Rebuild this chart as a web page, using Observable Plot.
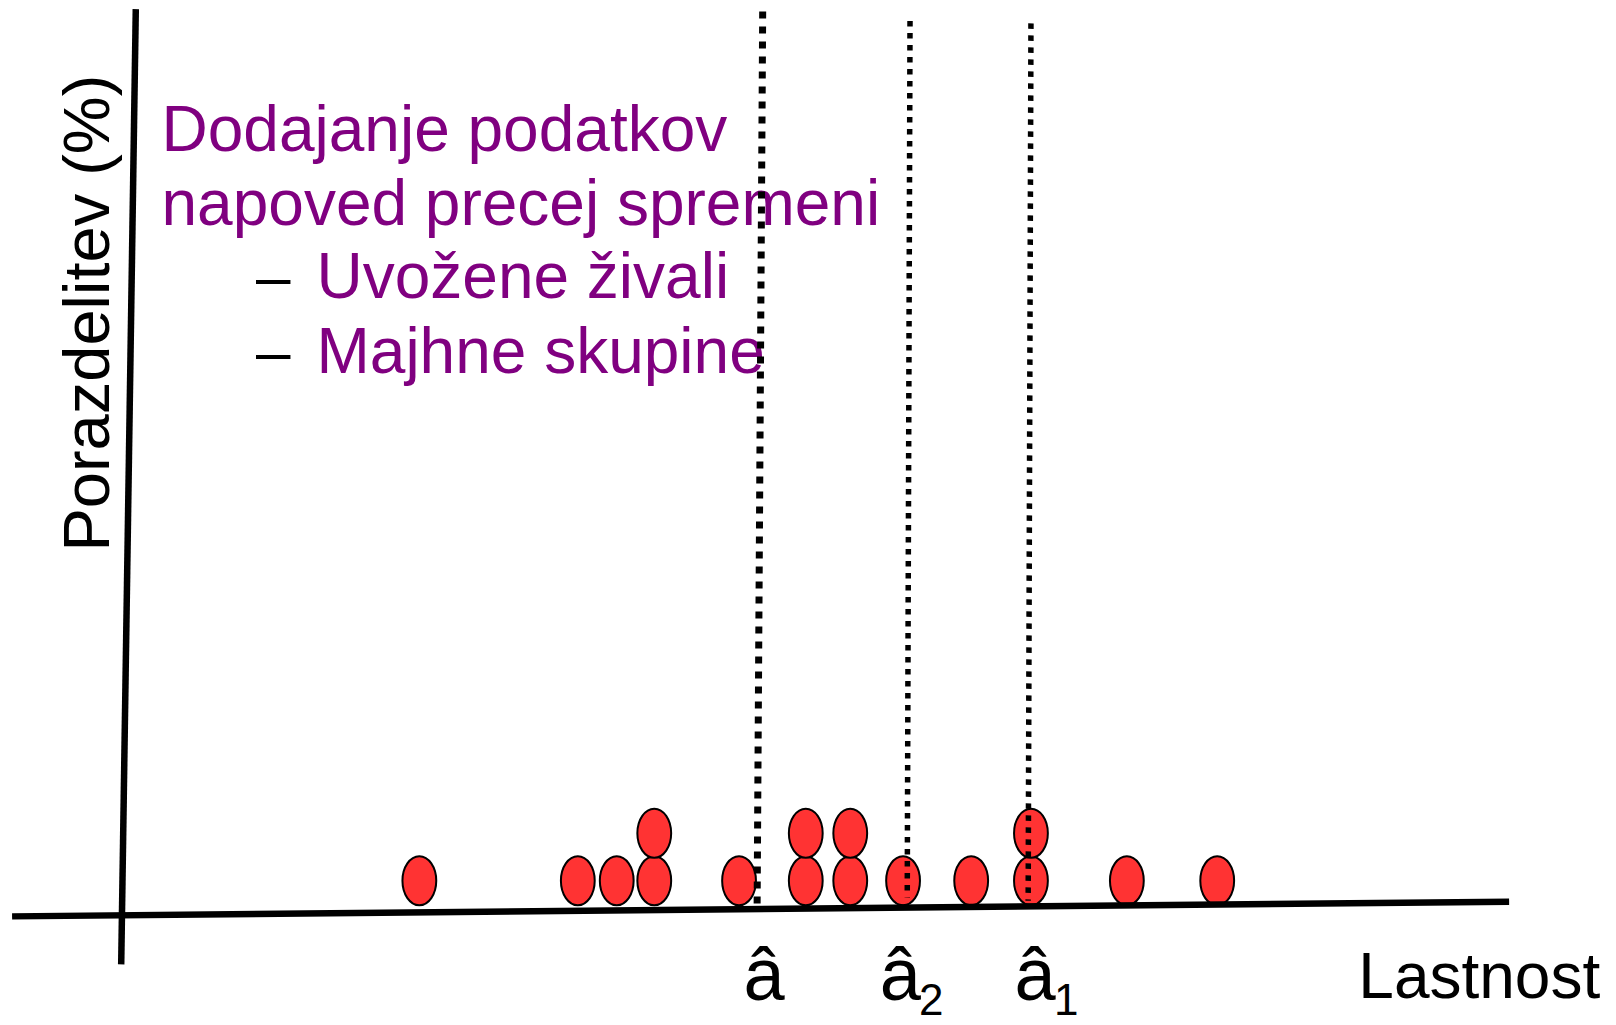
<!DOCTYPE html>
<html>
<head>
<meta charset="utf-8">
<script src="https://cdn.jsdelivr.net/npm/d3@7"></script>
<script src="https://cdn.jsdelivr.net/npm/@observablehq/plot@0.6"></script>
<style>
  html, body { margin: 0; padding: 0; background: #fff; }
  #chart svg { display: block; }
</style>
</head>
<body>
<div id="chart"></div>
<script>
// ---------- data (Lastnost values and stack level of each observation) ----------
const dotX     = [21.5, 32.9, 35.7, 38.4, 38.4, 44.5, 49.3, 49.3, 52.5, 52.5, 56.3, 61.2, 65.5, 65.5, 72.4, 78.9];
const dotLevel = [0,    0,    0,    0,    1,    0,    0,    1,    0,    1,    0,    0,    0,    1,    0,    0];

// estimates (vertical dotted lines), drawn by hand so slightly slanted
const estName    = ["â", "â2", "â1"];
const estTopX    = [46.2, 56.8, 65.5];
const estBottomX = [45.8, 56.6, 65.3];
const estTopY    = [18.8, 18.6, 18.55];
const estBottomY = [0.0, 0.15, 0.08];

// tick labels under the axis
const tickAt   = [46.3, 56.1, 65.8];
const tickMain = ["â", "â", "â"];
const tickSub  = ["", "2", "1"];

// hand-drawn axes (endpoints in data units)
const xAxisEnds = [[-7.8, -0.25], [99.9, 0.06]];
const yAxisEnds = [[1.1, 18.85], [0.05, -1.26]];

// texts
const titleLines  = ["Dodajanje podatkov", "napoved precej spremeni"];
const bulletLines = ["Uvožene živali", "Majhne skupine"];
const xLabel = "Lastnost";
const yLabel = "Porazdelitev (%)";

// ---------- derived tables ----------
const dots = dotX.map((x, i) => ({x, y: dotLevel[i] + 0.5}));
const estimates = estName.map((n, i) => ({
  name: n, x1: estTopX[i], y1: estTopY[i], x2: estBottomX[i], y2: estBottomY[i]
}));
const ticks = tickAt.map((x, i) => ({x, main: tickMain[i], sub: tickSub[i]}));
const axes = [
  {x1: xAxisEnds[0][0], y1: xAxisEnds[0][1], x2: xAxisEnds[1][0], y2: xAxisEnds[1][1]},
  {x1: yAxisEnds[0][0], y1: yAxisEnds[0][1], x2: yAxisEnds[1][0], y2: yAxisEnds[1][1]}
];

// custom ellipse symbol (taller than wide)
const ellipse = {
  draw(context, size) {
    const ry = Math.sqrt(size / Math.PI), rx = ry * 0.69, k = 0.5523;
    context.moveTo(rx, 0);
    context.bezierCurveTo(rx, ry * k, rx * k, ry, 0, ry);
    context.bezierCurveTo(-rx * k, ry, -rx, ry * k, -rx, 0);
    context.bezierCurveTo(-rx, -ry * k, -rx * k, -ry, 0, -ry);
    context.bezierCurveTo(rx * k, -ry, rx, -ry * k, rx, 0);
    context.closePath();
  }
};

const FONT = "Liberation Sans, Arial, Helvetica, sans-serif";
const PURPLE = "#800080";

const chart = Plot.plot({
  width: 1616,
  height: 1025,
  margin: 0,
  style: {background: "white", overflow: "visible"},
  x: {type: "linear", domain: [0, 100], range: [120, 1510], axis: null},
  y: {type: "linear", domain: [0, 19], range: [904, 1.5], axis: null},
  marks: [
    // purple text block
    Plot.text(titleLines, {
      x: 2.95, y: (d, i) => 15.87 - i * 1.575, text: d => d,
      textAnchor: "start", lineAnchor: "bottom",
      fontSize: 64, fontFamily: FONT, fill: PURPLE
    }),
    Plot.text(bulletLines, {
      x: 9.75, y: (d, i) => 12.76 - i * 1.575, text: () => "–",
      textAnchor: "start", lineAnchor: "bottom",
      fontSize: 62, fontFamily: FONT, fill: "black"
    }),
    Plot.text(bulletLines, {
      x: 14.1, y: (d, i) => 12.76 - i * 1.575, text: d => d,
      textAnchor: "start", lineAnchor: "bottom",
      fontSize: 64, fontFamily: FONT, fill: PURPLE
    }),
    // y label
    Plot.text([yLabel], {
      x: -0.86, y: 12.45, text: d => d, rotate: -90,
      textAnchor: "middle", lineAnchor: "bottom",
      fontSize: 65, fontFamily: FONT, fill: "black"
    }),
    // x label
    Plot.text([xLabel], {
      x: 89.05, y: -1.96, text: d => d,
      textAnchor: "start", lineAnchor: "bottom",
      fontSize: 64, fontFamily: FONT, fill: "black"
    }),
    // tick labels
    Plot.text(ticks, {
      x: "x", y: -2.02, text: "main",
      textAnchor: "middle", lineAnchor: "bottom",
      fontSize: 74, fontFamily: FONT, fill: "black"
    }),
    Plot.text(ticks, {
      x: "x", y: -2.33, text: "sub", dx: 31,
      textAnchor: "middle", lineAnchor: "bottom",
      fontSize: 44, fontFamily: FONT, fill: "black"
    }),
    // observations
    Plot.dot(dots, {
      x: "x", y: "y", r: 24.5, symbol: ellipse,
      fill: "#ff3333", stroke: "black", strokeWidth: 2
    }),
    // axes
    Plot.link(axes, {
      x1: "x1", y1: "y1", x2: "x2", y2: "y2",
      stroke: "black", strokeWidth: 6.5, strokeLinecap: "butt"
    }),
    // estimates
    Plot.link(estimates.filter(d => d.name === "â"), {
      x1: "x1", y1: "y1", x2: "x2", y2: "y2",
      stroke: "black", strokeWidth: 7, strokeDasharray: "7,8", strokeLinecap: "butt"
    }),
    Plot.link(estimates.filter(d => d.name !== "â"), {
      x1: "x1", y1: "y1", x2: "x2", y2: "y2",
      stroke: "black", strokeWidth: 5.5, strokeDasharray: "5.5,6.5", strokeLinecap: "butt"
    })
  ]
});

document.getElementById("chart").appendChild(chart);
</script>
</body>
</html>
